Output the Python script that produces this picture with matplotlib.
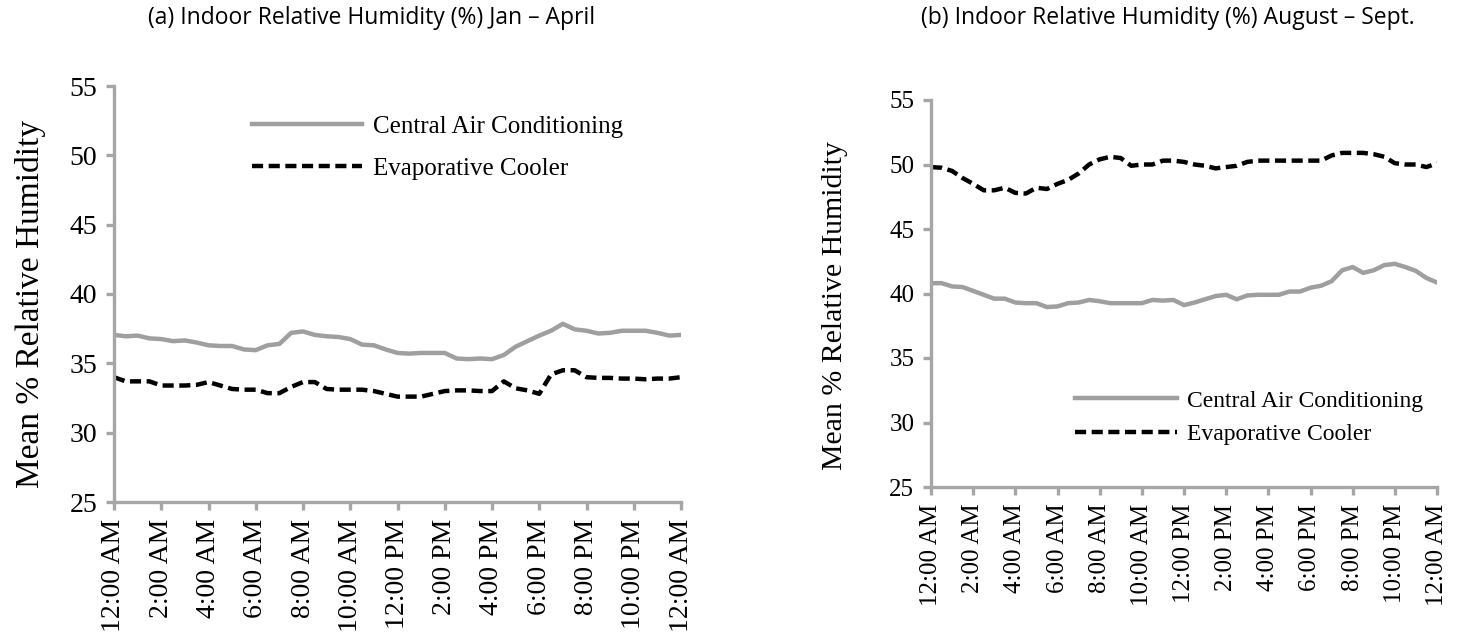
import matplotlib
matplotlib.use("Agg")
import matplotlib.pyplot as plt
import numpy as np

# half-hourly means, midnight to midnight
hours = np.arange(0, 24.5, 0.5)

tick_labels = ["12:00 AM", "2:00 AM", "4:00 AM", "6:00 AM", "8:00 AM", "10:00 AM",
               "12:00 PM", "2:00 PM", "4:00 PM", "6:00 PM", "8:00 PM", "10:00 PM", "12:00 AM"]

# (a) Jan - April
jan_ac = [37.05, 36.95, 37.0, 36.8, 36.75, 36.6, 36.65, 36.5, 36.3, 36.25,
          36.25, 36.0, 35.95, 36.3, 36.4, 37.2, 37.3, 37.05, 36.95, 36.9,
          36.75, 36.35, 36.3, 36.0, 35.75, 35.7, 35.75, 35.75, 35.75, 35.35,
          35.3, 35.35, 35.3, 35.6, 36.2, 36.6, 37.0, 37.35, 37.85, 37.45,
          37.35, 37.15, 37.2, 37.35, 37.35, 37.35, 37.2, 37.0, 37.05]
jan_evap = [34.0, 33.7, 33.7, 33.7, 33.4, 33.4, 33.4, 33.45, 33.65, 33.4,
            33.15, 33.1, 33.1, 32.85, 32.85, 33.3, 33.65, 33.65, 33.15, 33.1,
            33.1, 33.1, 33.0, 32.8, 32.6, 32.6, 32.6, 32.8, 33.0, 33.05,
            33.05, 33.0, 33.0, 33.7, 33.2, 33.05, 32.8, 34.2, 34.5, 34.5,
            34.0, 33.95, 33.95, 33.9, 33.9, 33.85, 33.9, 33.9, 34.0]

# (b) August - Sept.
aug_ac = [40.8, 40.8, 40.55, 40.5, 40.2, 39.9, 39.6, 39.6, 39.3, 39.25,
          39.25, 38.95, 39.0, 39.25, 39.3, 39.5, 39.4, 39.25, 39.25, 39.25,
          39.25, 39.5, 39.45, 39.5, 39.1, 39.3, 39.55, 39.8, 39.9, 39.55,
          39.85, 39.9, 39.9, 39.9, 40.15, 40.15, 40.45, 40.6, 40.95, 41.8,
          42.05, 41.6, 41.8, 42.2, 42.3, 42.05, 41.75, 41.2, 40.85]
aug_evap = [49.8, 49.75, 49.5, 48.95, 48.5, 48.0, 48.0, 48.2, 47.8, 47.75,
            48.2, 48.1, 48.5, 48.8, 49.3, 50.0, 50.4, 50.6, 50.5, 49.9,
            50.0, 50.0, 50.3, 50.3, 50.2, 50.0, 49.9, 49.7, 49.8, 49.9,
            50.2, 50.3, 50.3, 50.3, 50.3, 50.3, 50.3, 50.3, 50.7, 50.9,
            50.9, 50.9, 50.8, 50.6, 50.1, 50.0, 50.0, 49.8, 50.1]

serif = "Liberation Serif"
gray = "#9f9f9f"
axis_gray = "#a6a6a6"

fig = plt.figure(figsize=(14.68, 6.38), dpi=100)
ax1 = fig.add_axes([114 / 1468, 1 - 502 / 638, 567 / 1468, 416 / 638])
ax2 = fig.add_axes([931 / 1468, 1 - 487 / 638, 506 / 1468, 387 / 638])


def style_axes(ax, tick_size):
    ax.set_xlim(0, 24)
    ax.set_ylim(25, 55)
    ax.set_yticks(range(25, 56, 5))
    ax.set_xticks(range(0, 25, 2))
    ax.set_xticklabels(tick_labels, rotation=90, fontfamily=serif, fontsize=tick_size)
    for lab in ax.get_yticklabels():
        lab.set_fontfamily(serif)
        lab.set_fontsize(tick_size)
    for s in ["top", "right"]:
        ax.spines[s].set_visible(False)
    for s in ["left", "bottom"]:
        ax.spines[s].set_color(axis_gray)
        ax.spines[s].set_linewidth(2.4)
    ax.tick_params(direction="out", length=6, width=2.4, color=axis_gray, pad=6)


# left panel
ax1.plot(hours, jan_ac, color=gray, lw=3.2, label="Central Air Conditioning")
ax1.plot(hours, jan_evap, color="black", lw=3.2, ls=(0, (2.5, 1.25)), label="Evaporative Cooler")
style_axes(ax1, 20)
ax1.set_ylabel("Mean % Relative Humidity", fontfamily=serif, fontsize=24)
ax1.yaxis.set_label_coords(-0.12, 0.475)
ax1.legend(loc="upper left", bbox_to_anchor=(252 / 1468, 1 - 115 / 638),
           bbox_transform=fig.transFigure, frameon=False, borderpad=0, borderaxespad=0,
           handlelength=4.4, handletextpad=0.45, labelspacing=0.8,
           prop={"family": serif, "size": 18})

# right panel
ax2.plot(hours, aug_ac, color=gray, lw=3.2, label="Central Air Conditioning")
ax2.plot(hours, aug_evap, color="black", lw=3.2, ls=(0, (2.5, 1.25)), label="Evaporative Cooler")
style_axes(ax2, 18)
ax2.set_ylabel("Mean % Relative Humidity", fontfamily=serif, fontsize=21.5)
ax2.yaxis.set_label_coords(-0.165, 0.47)
ax2.legend(loc="upper left", bbox_to_anchor=(1075 / 1468, 1 - 390 / 638),
           bbox_transform=fig.transFigure, frameon=False, borderpad=0, borderaxespad=0,
           handlelength=4.3, handletextpad=0.45, labelspacing=0.5,
           prop={"family": serif, "size": 17})

fig.text(372 / 1468, 1 - 18 / 638, "(a) Indoor Relative Humidity (%) Jan \u2013 April",
         ha="center", va="center", fontfamily="Open Sans", fontsize=16.5)
fig.text(1168 / 1468, 1 - 18 / 638, "(b) Indoor Relative Humidity (%) August \u2013 Sept.",
         ha="center", va="center", fontfamily="Open Sans", fontsize=16.5)

fig.savefig("out.png", dpi=100)
